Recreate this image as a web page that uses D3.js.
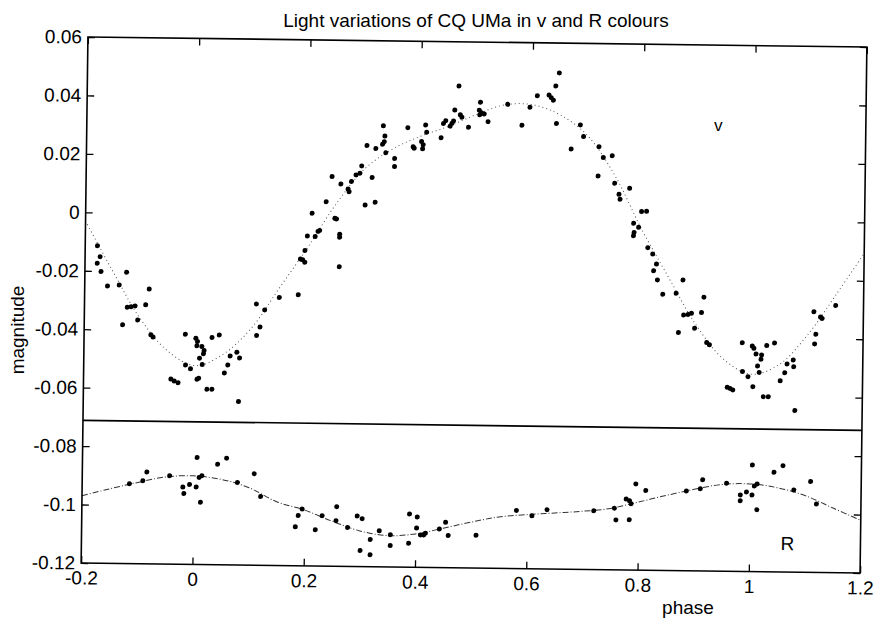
<!DOCTYPE html>
<html>
<head>
<meta charset="utf-8">
<script src="https://cdn.jsdelivr.net/npm/d3@7"></script>
<style>
body { margin: 0; background: #fff; }
text { font-family: "Liberation Sans", Arial, sans-serif; fill: #000; }
</style>
</head>
<body>
<div id="chart"></div>
<script>
// v colour: phase / magnitude
var vPhase = [-0.178,-0.173,-0.178,-0.171,-0.159,-0.138,-0.125,-0.084,-0.131,-0.123,-0.116,-0.109,-0.104,-0.090,-0.080,-0.076,
  -0.043,-0.037,-0.030,-0.018,-0.017,-0.008,0.001,0.004,0.003,0.012,0.016,0.015,0.008,0.013,0.004,0.007,0.022,0.031,0.030,0.043,
  0.053,0.059,0.063,0.075,0.080,0.079,0.109,0.110,0.116,0.124,0.150,0.184,
  0.221,0.218,0.199,0.213,0.257,0.257,0.195,0.187,0.191,0.195,0.257,
  0.648,0.642,0.609,0.630,0.634,0.638,0.596,0.582,0.644,0.556,0.507,0.505,0.509,0.514,0.506,0.521,0.468,0.461,0.471,0.474,0.486,
  0.441,0.445,0.453,0.456,0.459,0.437,0.409,0.411,0.377,0.387,0.389,0.402,0.405,0.404,0.333,0.336,0.335,0.332,0.338,0.320,0.304,
  0.354,0.354,0.314,0.295,0.292,0.285,0.277,0.271,0.273,0.258,0.242,0.232,0.302,0.320,0.207,0.248,0.251,0.671,
  0.687,0.693,0.721,0.729,0.745,0.720,0.750,0.777,0.758,0.760,0.799,0.808,
  0.785,0.794,0.786,0.785,0.811,0.820,0.827,0.822,0.829,0.875,0.839,0.863,0.913,0.877,0.885,0.891,0.909,0.868,0.897,0.919,0.924,
  0.983,1.001,1.004,1.027,1.041,1.008,1.018,1.017,1.011,0.984,0.994,1.014,0.957,0.962,0.967,1.003,1.022,1.031,1.052,1.060,1.064,
  1.075,1.076,1.079,1.111,1.123,1.126,1.115,1.113,1.150];
var vMag = [-0.0114,-0.0151,-0.0174,-0.0202,-0.0251,-0.0247,-0.0203,-0.0260,-0.0383,-0.0323,-0.0321,-0.0318,-0.0366,-0.0314,-0.0416,-0.0424,
  -0.0567,-0.0573,-0.0579,-0.0413,-0.0518,-0.0531,-0.0426,-0.0437,-0.0452,-0.0454,-0.0468,-0.0479,-0.0494,-0.0516,-0.0566,-0.0563,-0.0600,-0.0600,-0.0423,-0.0414,
  -0.0544,-0.0516,-0.0485,-0.0472,-0.0492,-0.0641,-0.0306,-0.0414,-0.0385,-0.0326,-0.0283,-0.0273,
  -0.0052,-0.0055,-0.0071,-0.0073,-0.0064,-0.0074,-0.0121,-0.0150,-0.0153,-0.0161,-0.0175,
  0.0498,0.0453,0.0419,0.0422,0.0413,0.0404,0.0379,0.0317,0.0325,0.0388,0.0394,0.0367,0.0358,0.0354,0.0351,0.0328,0.0449,0.0366,0.0350,0.0342,0.0308,
  0.0320,0.0329,0.0311,0.0320,0.0329,0.0271,0.0314,0.0289,0.0304,0.0239,0.0234,0.0257,0.0246,0.0232,0.0309,0.0274,0.0255,0.0246,0.0217,0.0231,0.0241,
  0.0198,0.0170,0.0132,0.0171,0.0146,0.0140,0.0117,0.0091,0.0082,0.0108,0.0133,0.0047,0.0037,0.0047,0.0007,-0.0009,-0.0012,0.0238,
  0.0321,0.0281,0.0247,0.0210,0.0217,0.0147,0.0123,0.0106,0.0085,0.0068,0.0027,0.0028,
  -0.0013,-0.0027,-0.0045,-0.0056,-0.0096,-0.0118,-0.0152,-0.0175,-0.0206,-0.0205,-0.0255,-0.0251,-0.0263,-0.0325,-0.0323,-0.0319,-0.0316,-0.0385,-0.0370,-0.0418,-0.0426,
  -0.0417,-0.0428,-0.0436,-0.0426,-0.0417,-0.0455,-0.0458,-0.0473,-0.0496,-0.0516,-0.0533,-0.0518,-0.0570,-0.0574,-0.0579,-0.0567,-0.0601,-0.0601,-0.0546,-0.0518,-0.0488,
  -0.0474,-0.0497,-0.0647,-0.0308,-0.0326,-0.0331,-0.0385,-0.0418,-0.0286];

// R colour: phase / magnitude
var rPhase = [-0.115,-0.091,-0.084,-0.043,-0.019,-0.017,-0.007,0.005,0.006,0.010,0.015,0.013,0.043,0.059,0.079,0.109,0.121,
  0.184,0.189,0.196,0.220,0.232,0.258,0.257,0.278,0.295,0.304,0.301,0.319,0.319,0.335,0.355,0.355,0.389,0.388,0.403,0.402,
  0.409,0.415,0.418,0.443,0.454,0.459,0.509,0.581,0.609,0.636,0.720,0.757,0.760,0.784,0.778,0.784,0.787,0.795,0.813,
  0.886,0.911,0.915,0.958,0.983,0.983,0.994,1.004,1.004,1.008,1.013,1.013,1.043,1.059,1.079,1.109,1.120];
var rMag = [-0.0927,-0.0916,-0.0886,-0.0898,-0.0936,-0.0958,-0.0927,-0.0935,-0.0834,-0.0902,-0.0896,-0.0987,-0.0856,-0.0835,-0.0918,-0.0887,-0.0965,
  -0.1067,-0.1028,-0.1006,-0.1076,-0.1028,-0.0996,-0.1044,-0.1067,-0.1027,-0.1036,-0.1145,-0.1107,-0.1159,-0.1077,-0.1090,-0.1127,-0.1018,-0.1118,-0.1028,-0.1066,
  -0.1089,-0.1089,-0.1083,-0.1068,-0.1045,-0.1090,-0.1088,-0.1001,-0.1019,-0.0997,-0.0999,-0.0989,-0.1029,-0.1028,-0.0957,-0.0963,-0.0973,-0.0905,-0.0927,
  -0.0927,-0.0919,-0.0888,-0.0899,-0.0938,-0.0958,-0.0928,-0.0835,-0.0938,-0.0907,-0.0900,-0.0988,-0.0859,-0.0836,-0.0919,-0.0889,-0.0966];

// fitted curves
var curvePhase = [-0.2,-0.15,-0.1,-0.05,0,0.05,0.1,0.15,0.2,0.25,0.3,0.35,0.4,0.45,0.5,0.55,0.6,0.65,0.7,0.75,0.8,0.85,0.9,0.95,1,1.05,1.1,1.15,1.2];
var vCurve = [-0.003,-0.020,-0.036,-0.047,-0.052,-0.048,-0.039,-0.025,-0.011,0.004,0.016,0.023,0.0275,0.031,0.0352,0.0386,0.0388,0.0355,0.0285,0.015,
  -0.0035,-0.020,-0.036,-0.0475,-0.0525,-0.049,-0.0388,-0.025,-0.0106];
var rCurve = [-0.097,-0.0945,-0.0922,-0.0902,-0.0897,-0.0908,-0.0935,-0.0982,-0.1009,-0.1046,-0.1078,-0.1093,-0.1086,-0.1065,-0.1043,-0.1024,-0.1015,
  -0.1008,-0.1001,-0.0990,-0.0967,-0.0943,-0.0921,-0.0903,-0.0900,-0.0912,-0.0938,-0.0979,-0.1020];

var separator = -0.0712;

var xTicks = [-0.2,0,0.2,0.4,0.6,0.8,1,1.2];
var xTickLabels = ['-0.2','0','0.2','0.4','0.6','0.8','1','1.2'];
var yTicks = [-0.12,-0.1,-0.08,-0.06,-0.04,-0.02,0,0.02,0.04,0.06];
var yTickLabels = ['-0.12','-0.1','-0.08','-0.06','-0.04','-0.02','0','0.02','0.04','0.06'];

var W = 874, H = 626;
var margin = {left: 84.5, right: 874 - 863.5, top: 42, bottom: 626 - 568};
var svg = d3.select('#chart').append('svg')
    .attr('width', W)
    .attr('height', H);

var x = d3.scaleLinear().domain([-0.2, 1.2]).range([margin.left, W - margin.right]);
var y = d3.scaleLinear().domain([-0.12, 0.06]).range([H - margin.bottom, margin.top]);

// Title
svg.append('text')
    .attr('x', 476)
    .attr('y', 27)
    .attr('text-anchor', 'middle')
    .style('font-size', '19px')
    .text('Light variations of CQ UMa in v and R colours');

// the scanned plot sits slightly tilted
var g = svg.append('g').attr('transform', 'rotate(0.74,474,305)');

var line = d3.line()
    .x(d => x(d[0]))
    .y(d => y(d[1]))
    .curve(d3.curveCatmullRom);

g.append('path')
    .datum(d3.zip(curvePhase, vCurve))
    .attr('fill', 'none')
    .attr('stroke', '#555')
    .attr('stroke-width', 1)
    .attr('stroke-dasharray', '1,3')
    .attr('d', line);

g.append('path')
    .datum(d3.zip(curvePhase, rCurve))
    .attr('fill', 'none')
    .attr('stroke', '#333')
    .attr('stroke-width', 1)
    .attr('stroke-dasharray', '6,2,1,2')
    .attr('d', line);

g.selectAll('.vdot')
    .data(d3.zip(vPhase, vMag))
    .enter().append('circle')
    .attr('class', 'vdot')
    .attr('cx', d => x(d[0]))
    .attr('cy', d => y(d[1]))
    .attr('r', 2.5)
    .attr('fill', '#000');

g.selectAll('.rdot')
    .data(d3.zip(rPhase, rMag))
    .enter().append('circle')
    .attr('class', 'rdot')
    .attr('cx', d => x(d[0]))
    .attr('cy', d => y(d[1]))
    .attr('r', 2.5)
    .attr('fill', '#000');

// line between the two panels
g.append('line')
    .attr('x1', x(-0.2)).attr('x2', x(1.2))
    .attr('y1', y(separator)).attr('y2', y(separator))
    .attr('stroke', '#000')
    .attr('stroke-width', 1.6);

// axes, ticks pointing inward
function styleAxis(sel) {
    sel.select('.domain').remove();
    sel.attr('font-size', 19);
    sel.selectAll('line').attr('stroke', '#000').attr('stroke-width', 1.3);
}

g.append('g')
    .attr('transform', 'translate(0,' + y(-0.12) + ')')
    .call(d3.axisBottom(x).tickValues(xTicks).tickSize(-7).tickPadding(8)
        .tickFormat((d, i) => xTickLabels[i]))
    .call(styleAxis);

g.append('g')
    .attr('transform', 'translate(0,' + y(0.06) + ')')
    .call(d3.axisTop(x).tickValues(xTicks).tickSize(-7).tickFormat(''))
    .call(styleAxis);

g.append('g')
    .attr('transform', 'translate(' + x(-0.2) + ',0)')
    .call(d3.axisLeft(y).tickValues(yTicks).tickSize(-7).tickPadding(6)
        .tickFormat((d, i) => yTickLabels[i]))
    .call(styleAxis);

g.append('g')
    .attr('transform', 'translate(' + x(1.2) + ',0)')
    .call(d3.axisRight(y).tickValues(yTicks).tickSize(-7).tickFormat(''))
    .call(styleAxis);

g.append('rect')
    .attr('x', x(-0.2))
    .attr('y', y(0.06))
    .attr('width', x(1.2) - x(-0.2))
    .attr('height', y(-0.12) - y(0.06))
    .attr('fill', 'none')
    .attr('stroke', '#000')
    .attr('stroke-width', 1.6);

// panel labels
g.append('text')
    .attr('x', x(0.935))
    .attr('y', y(0.0306))
    .attr('text-anchor', 'middle')
    .style('font-size', '17px')
    .text('v');

g.append('text')
    .attr('x', x(1.069))
    .attr('y', y(-0.1125))
    .attr('text-anchor', 'middle')
    .style('font-size', '19px')
    .text('R');

// axis labels
svg.append('text')
    .attr('x', 688)
    .attr('y', 614)
    .attr('text-anchor', 'middle')
    .style('font-size', '19px')
    .text('phase');

svg.append('text')
    .attr('transform', 'translate(24,330) rotate(-90)')
    .attr('text-anchor', 'middle')
    .style('font-size', '19px')
    .text('magnitude');
</script>
</body>
</html>
